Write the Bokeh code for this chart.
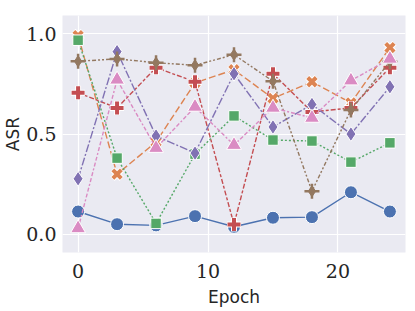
from bokeh.plotting import figure
from bokeh.embed import file_html
from bokeh.resources import INLINE
from bokeh.models import Range1d, FixedTicker

epochs = [0, 3, 6, 9, 12, 15, 18, 21, 24]
s1 = [0.114, 0.051, 0.045, 0.091, 0.038, 0.083, 0.086, 0.21, 0.114]
s2 = [0.99, 0.30, 0.46, 0.755, 0.82, 0.677, 0.76, 0.655, 0.93]
s3 = [0.967, 0.38, 0.055, 0.40, 0.59, 0.47, 0.465, 0.36, 0.456]
s4 = [0.705, 0.63, 0.83, 0.76, 0.05, 0.80, 0.61, 0.63, 0.83]
s5 = [0.277, 0.91, 0.49, 0.405, 0.80, 0.535, 0.647, 0.50, 0.735]
s6 = [0.862, 0.874, 0.855, 0.842, 0.895, 0.763, 0.215, 0.62, 0.86]
s7 = [0.03, 0.77, 0.43, 0.635, 0.445, 0.63, 0.58, 0.766, 0.874]

x_ticks = [0, 10, 20]
y_ticks = [0.0, 0.5, 1.0]

colors = ["#4C72B0", "#DD8452", "#55A868", "#C44E52", "#8172B3", "#937860", "#DA8BC3"]
dashes = ["solid", "7 3", "2 2", "5 2 3 2", "8 2 2 2", "4 2 2 2 2 2", "4 2 4 2 2 2"]

p = figure(frame_width=343, frame_height=237, output_backend="svg", toolbar_location=None,
           x_range=Range1d(-1.2, 25.2), y_range=Range1d(-0.09, 1.09),
           min_border_left=30, min_border_right=1, min_border_top=15, min_border_bottom=40)
p.background_fill_color = "#EAEAF2"
p.outline_line_color = None
p.border_fill_color = "white"

series = [s1, s2, s3, s4, s5, s6, s7]
for i, s in enumerate(series):
    c = colors[i]
    p.line(epochs, s, line_color=c, line_width=1.4, line_dash=dashes[i])
    if i == 0:
        p.scatter(epochs, s, marker="circle", size=13, fill_color=c, line_color="white", line_width=1)
    elif i == 1:
        p.scatter(epochs, s, marker="x", size=13, line_color="white", line_width=6)
        p.scatter(epochs, s, marker="x", size=12, line_color=c, line_width=4)
    elif i == 2:
        p.scatter(epochs, s, marker="square", size=10.5, fill_color=c, line_color="white", line_width=1)
    elif i == 3:
        p.scatter(epochs, s, marker="cross", size=14, line_color="white", line_width=6)
        p.scatter(epochs, s, marker="cross", size=13, line_color=c, line_width=4)
    elif i == 4:
        p.scatter(epochs, s, marker="diamond", size=15, fill_color=c, line_color="white", line_width=1)
    elif i == 5:
        p.scatter(epochs, s, marker="cross", size=15, line_color=c, line_width=2.5)
        p.scatter(epochs, s, marker="diamond", size=11, fill_color=c, line_color=c, line_width=1)
    else:
        p.scatter(epochs, s, marker="triangle", size=15, fill_color=c, line_color="white", line_width=1)

p.xaxis.ticker = FixedTicker(ticks=x_ticks)
p.yaxis.ticker = FixedTicker(ticks=y_ticks)
p.yaxis.major_label_overrides = {0.0: "0.0", 0.5: "0.5", 1.0: "1.0"}

p.xgrid.grid_line_color = "white"
p.ygrid.grid_line_color = "white"
p.xgrid.grid_line_width = 1.2
p.ygrid.grid_line_width = 1.2

for ax in (p.xaxis[0], p.yaxis[0]):
    ax.axis_line_color = None
    ax.major_tick_line_color = None
    ax.minor_tick_line_color = None
    ax.major_tick_out = 0
    ax.major_tick_in = 0
    ax.minor_tick_out = 0
    ax.minor_tick_in = 0
    ax.major_label_text_font = "DejaVu Serif"
    ax.major_label_text_font_size = "19px"
    ax.major_label_text_color = "#262626"
    ax.axis_label_text_font = "DejaVu Sans"
    ax.axis_label_text_font_size = "17px"
    ax.axis_label_text_font_style = "normal"
    ax.axis_label_text_color = "#262626"

p.xaxis.axis_label = "Epoch"
p.yaxis.axis_label = "ASR"
p.xaxis.major_label_standoff = 11
p.yaxis.major_label_standoff = 6
p.xaxis.axis_label_standoff = 6
p.yaxis.axis_label_standoff = 0

open("out.html", "w").write(file_html(p, INLINE))
